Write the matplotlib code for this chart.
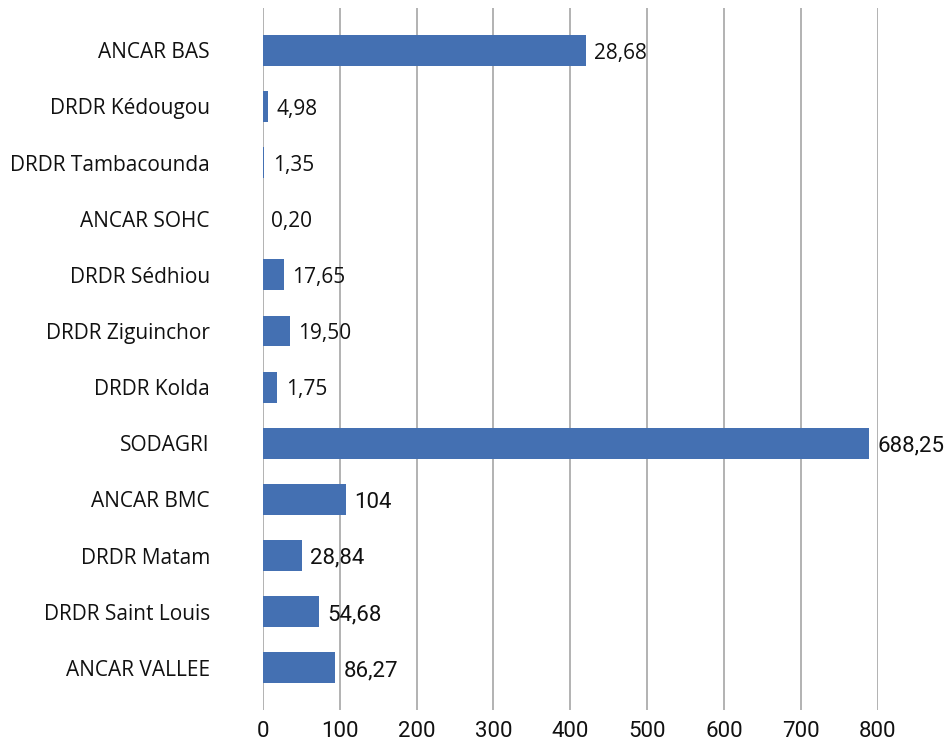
import matplotlib.pyplot as plt

categories = ['ANCAR BAS', 'DRDR Kédougou', 'DRDR Tambacounda', 'ANCAR SOHC',
              'DRDR Sédhiou', 'DRDR Ziguinchor', 'DRDR Kolda', 'SODAGRI',
              'ANCAR BMC', 'DRDR Matam', 'DRDR Saint Louis', 'ANCAR VALLEE']
# bar lengths as drawn in the source chart (they do not match the printed labels)
bar_values = [420, 7, 2, 0.2, 27, 35, 19, 789, 108, 51, 73, 94]
value_labels = ['28,68', '4,98', '1,35', '0,20', '17,65', '19,50', '1,75',
                '688,25', '104', '28,84', '54,68', '86,27']
xticks = [0, 100, 200, 300, 400, 500, 600, 700, 800]

regular = 'Open Sans'
narrow = 'Roboto'

fig = plt.figure(figsize=(9.52, 7.45), dpi=100)
ax = fig.add_axes([0.276, 0.047, 0.646, 0.942])

y = list(range(len(categories)))
bars = ax.barh(y, bar_values, height=0.55, color='#4470b2', zorder=3)

for i, (bar, lab) in enumerate(zip(bars, value_labels)):
    font = regular if i < 7 else narrow
    size = 15 if i < 7 else 16
    ax.annotate(lab, (bar.get_width(), bar.get_y() + bar.get_height() / 2),
                xytext=(6, -2), textcoords='offset points', va='center', ha='left',
                fontsize=size, family=font, color='#111111', annotation_clip=False)

ax.set_xlim(0, 800)
ax.set_ylim(11.75, -0.75)
ax.set_yticks(y)
ax.set_yticklabels(categories, fontsize=15, family=regular, color='#111111')
ax.set_xticks(xticks)
ax.set_xticklabels([str(t) for t in xticks], fontsize=16, family=narrow, color='#111111')
ax.tick_params(axis='y', length=0, pad=38)
ax.tick_params(axis='x', length=0, pad=8)
ax.grid(axis='x', color='#a6a6a6', linewidth=1.2, zorder=0)
for s in ax.spines.values():
    s.set_visible(False)

fig.savefig('out.png', dpi=100)
